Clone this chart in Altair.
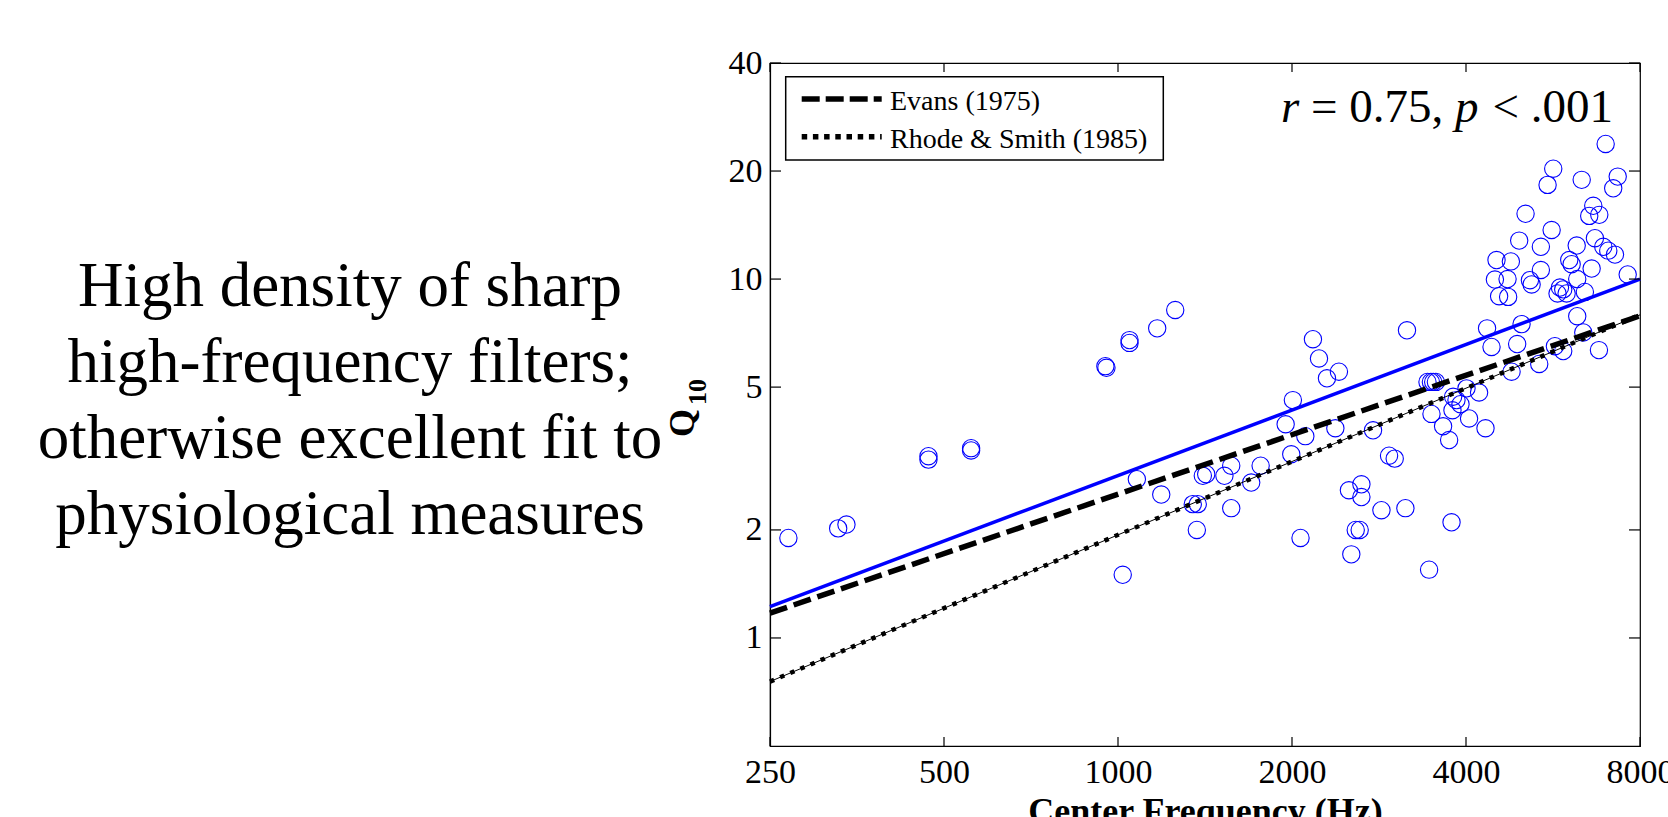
import altair as alt
import pandas as pd

# ---------------- data ----------------
freq = [269, 328, 339, 470, 470, 557, 557, 951, 955, 1047, 1047, 1169, 1256, 1078, 1188, 1019,
        1402, 1421, 1570, 1528, 1765, 1700, 1347, 1374, 1369, 1570, 1950, 2007, 2109, 2377,
        2762, 1994, 2174, 2227, 2299, 2411, 3162, 2944, 3011, 2509, 2637, 2637, 2856, 3142,
        3776, 2069, 2578, 2619, 2533, 3453, 3431, 3478, 3510, 3548, 4008, 4214, 3800, 3851,
        3913, 3790, 3486, 4049, 3651, 4323, 3740, 4350, 4428, 4904, 4991, 6230, 6382, 5700,
        5892, 6793, 4796, 5355, 6977, 5662, 5536, 6342, 7320, 7190, 5071, 6641, 6535, 6802,
        5626, 4944, 5390, 6217, 6685, 6912, 7050, 7241, 4517, 4783, 6035, 6093, 6598, 7617,
        5390, 4488, 4720, 5160, 5195, 6230, 5816, 5892, 5760, 6423, 4564, 4731, 5972]
q10 = [1.90, 2.02, 2.07, 3.21, 3.14, 3.38, 3.33, 5.72, 5.66, 6.76, 6.64, 7.29, 8.20, 2.77, 2.51, 1.50,
       2.83, 2.86, 3.02, 2.83, 3.02, 2.71, 2.36, 2.36, 2.00, 2.30, 3.94, 4.60, 3.65, 3.84,
       3.79, 3.25, 6.80, 6.01, 5.29, 5.52, 7.20, 3.22, 3.16, 2.58, 2.68, 2.47, 2.27, 2.30,
       2.10, 1.90, 2.00, 2.00, 1.71, 1.55, 5.17, 5.17, 5.17, 5.17, 4.96, 4.83, 4.70, 4.60,
       4.48, 4.31, 4.21, 4.09, 3.89, 3.84, 3.56, 7.29, 6.47, 6.59, 7.49, 7.88, 7.10, 6.50,
       6.30, 6.34, 5.52, 5.80, 23.8, 20.3, 18.3, 18.9, 19.3, 17.9, 15.2, 16.0, 15.0, 15.1,
       13.7, 12.8, 12.3, 12.4, 13.0, 12.3, 12.0, 11.7, 11.3, 11.2, 11.3, 11.0, 10.7, 10.3,
       10.6, 9.97, 10.0, 9.93, 9.66, 10.0, 9.47, 9.36, 9.12, 9.21, 8.96, 8.92, 9.12]

line_freq = [250, 8000]
fit_q = [1.223, 10.0]
evans_q = [1.173, 7.9]
rhode_q = [0.756, 7.95]

x_ticks = [250, 500, 1000, 2000, 4000, 8000]
y_ticks = [1, 2, 5, 10, 20, 40]

legend_labels = ["Evans (1975)", "Rhode & Smith (1985)"]
side_text = ["High density of sharp", "high-frequency filters;",
             "otherwise excellent fit to", "physiological measures"]

# ---------------- layout ----------------
W, H = 870, 683
FONT = "Liberation Serif"
BLUE = "#0000ff"

xs = alt.Scale(type="log", domain=[250, 8000], nice=False)
ys = alt.Scale(type="log", domain=[0.5, 40], nice=False)

ax_x = alt.Axis(
    values=x_ticks, ticks=False, grid=False, labelFont=FONT, labelFontSize=34,
    labelColor="black", labelPadding=9, domainColor="black", domainWidth=1.2,
    labelFlush=False, labelOverlap=False, format="d",
    title="Center Frequency (Hz)", titleFont=FONT, titleFontSize=36,
    titleFontWeight="bold", titleColor="black", titleBaseline="alphabetic", titleY=76)
ax_y = alt.Axis(
    values=y_ticks, ticks=False, grid=False, labelFont=FONT, labelFontSize=34,
    labelColor="black", labelPadding=8, domainColor="black", domainWidth=1.2,
    labelFlush=False, labelOverlap=False, format="d", title=None)

X = alt.X("f:Q", scale=xs, axis=ax_x, title="Center Frequency (Hz)")
Y = alt.Y("q:Q", scale=ys, axis=ax_y, title=None)

one = alt.Data(values=[{"a": 1}])

pts = alt.Chart(pd.DataFrame({"f": freq, "q": q10})).mark_point(
    shape="circle", filled=False, size=300, color=BLUE, strokeWidth=1.1, opacity=1
).encode(x=X, y=Y)


def line_layer(qvals, **style):
    df = pd.DataFrame({"f": line_freq, "q": qvals})
    return alt.Chart(df).mark_line(**style).encode(x=X, y=Y)


fit = line_layer(fit_q, color=BLUE, strokeWidth=3.5)
evans = line_layer(evans_q, color="black", strokeWidth=5.5, strokeDash=[18, 7])
rhode_thin = line_layer(rhode_q, color="black", strokeWidth=1)
rhode = line_layer(rhode_q, color="black", strokeWidth=4.5, strokeDash=[4.5, 6.5])

# inward ticks on all four sides
xt = pd.DataFrame({"f": x_ticks})
yt = pd.DataFrame({"q": y_ticks})
tick_style = dict(color="black", strokeWidth=1.2)
xt_bot = alt.Chart(xt).mark_rule(**tick_style).encode(
    x=X, y=alt.value(H), y2=alt.value(H - 9))
xt_top = alt.Chart(xt).mark_rule(**tick_style).encode(
    x=X, y=alt.value(0), y2=alt.value(9))
yt_left = alt.Chart(yt).mark_rule(**tick_style).encode(
    y=Y, x=alt.value(0), x2=alt.value(11))
yt_right = alt.Chart(yt).mark_rule(**tick_style).encode(
    y=Y, x=alt.value(W), x2=alt.value(W - 11))

# legend box
leg_box = alt.Chart(one).mark_rect(fill="white", stroke="black", strokeWidth=1.5).encode(
    x=alt.value(15.7), x2=alt.value(393.3), y=alt.value(13.7), y2=alt.value(97))
leg_dash = alt.Chart(one).mark_rule(color="black", strokeWidth=5.5, strokeDash=[18, 6]).encode(
    x=alt.value(31.7), x2=alt.value(111.7), y=alt.value(36))
leg_dot = alt.Chart(one).mark_rule(color="black", strokeWidth=5.5, strokeDash=[5.5, 5.7]).encode(
    x=alt.value(31.7), x2=alt.value(111.7), y=alt.value(73.7))
leg_t1 = alt.Chart(one).mark_text(text=legend_labels[0], font=FONT, fontSize=28, align="left",
                                  baseline="alphabetic", color="black").encode(
    x=alt.value(120), y=alt.value(47))
leg_t2 = alt.Chart(one).mark_text(text=legend_labels[1], font=FONT, fontSize=28, align="left",
                                  baseline="alphabetic", color="black").encode(
    x=alt.value(120), y=alt.value(85.3))

# r / p annotation
ann = dict(font=FONT, fontSize=47, baseline="alphabetic", color="black")
a_r = alt.Chart(one).mark_text(text="r", fontStyle="italic", align="left", **ann).encode(
    x=alt.value(511), y=alt.value(58.7))
a_eq = alt.Chart(one).mark_text(text="= 0.75,", align="left", **ann).encode(
    x=alt.value(541), y=alt.value(58.7))
a_p = alt.Chart(one).mark_text(text="p", fontStyle="italic", align="left", **ann).encode(
    x=alt.value(685), y=alt.value(58.7))
a_lt = alt.Chart(one).mark_text(text="< .001", align="right", **ann).encode(
    x=alt.value(843), y=alt.value(58.7))

# Q10 y-axis title
q_lab = alt.Chart(one).mark_text(text="Q", font=FONT, fontSize=36, fontWeight="bold", angle=270,
                                 align="center", baseline="alphabetic", color="black").encode(
    x=alt.value(-76), y=alt.value(360))
q_sub = alt.Chart(one).mark_text(text="10", font=FONT, fontSize=26, fontWeight="bold", angle=270,
                                 align="center", baseline="alphabetic", color="black").encode(
    x=alt.value(-64), y=alt.value(329))

# side text
side_layers = []
for i, s in enumerate(side_text):
    side_layers.append(
        alt.Chart(one).mark_text(text=s, font=FONT, fontSize=63, align="center",
                                 baseline="alphabetic", color="black").encode(
            x=alt.value(-420), y=alt.value(243 + 76 * i)))

chart = alt.layer(
    pts, fit, evans, rhode_thin, rhode,
    xt_bot, xt_top, yt_left, yt_right,
    leg_box, leg_dash, leg_dot, leg_t1, leg_t2,
    a_r, a_eq, a_p, a_lt, q_lab, q_sub, *side_layers
).properties(
    width=W, height=H,
    autosize=alt.AutoSizeParams(type="none"),
    padding={"left": 770, "top": 63, "right": 28, "bottom": 71},
    background="white",
).configure_view(stroke="black", strokeWidth=1.2)

chart.save("out.html", embed_options={"renderer": "svg", "actions": False})
